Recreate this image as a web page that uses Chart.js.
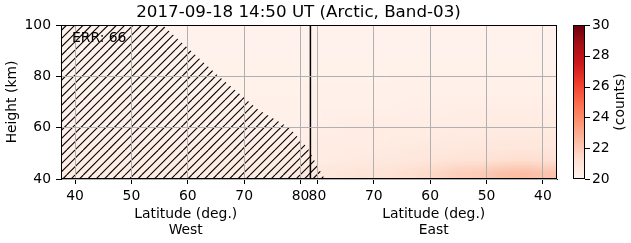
<!DOCTYPE html>
<html>
<head>
<meta charset="utf-8">
<script src="https://cdn.jsdelivr.net/npm/chart.js@4"></script>
<style>
  html, body { margin: 0; padding: 0; background: #fff; }
  canvas { display: block; }
</style>
</head>
<body>
<canvas id="chart" width="631" height="243"></canvas>
<script>
// x軸は West 緯度 → そのまま, East 緯度 → EAST_ZERO - 緯度 の連続軸
const EAST_ZERO = 163;
const westTicks = [40, 50, 60, 70, 80];
const eastTicks = [80, 70, 60, 50, 40];
const heightTicks = [40, 60, 80, 100];
const cbTicks = [20, 22, 24, 26, 28, 30];
const splitPos = 81.75;          // West/East の境界線
const errLabel = 'ERR: 66';

// 観測範囲外（ハッチ領域）の境界
const hatchPos = [37.5, 55.5, 65.5, 72.5, 78.0, 81.3, 83.0, 84.3];
const hatchHeight = [100, 100, 80, 67, 60, 52, 45, 40];

// ヒートマップのビン (x軸の値, 高度 km)
const colEdges = [37.5, 41.5, 45.5, 49.5, 53.5, 57.5, 61.5, 65.5, 69.5, 73.5, 77.5, 81.5,
                  85.5, 89.5, 93.5, 97.5, 101.5, 105.5, 109.5, 113.5, 117.5, 121.5, 125.5];
const rowEdges = [40, 45, 50, 55, 60, 65, 70, 75, 80, 85, 90, 95, 100];

// counts: 下の行 (40-45 km) から上へ, 左 (West 37.5) から右 (East 37.5) へ
const counts = [
  [20.5, 20.5, 20.5, 20.5, 20.5, 20.5, 20.5, 20.6, 20.6, 20.6, 20.7, 20.8, 20.9, 21.0, 21.1, 21.3, 21.5, 21.8, 21.9, 22.3, 22.4, 22.2],
  [20.4, 20.4, 20.4, 20.4, 20.4, 20.4, 20.4, 20.5, 20.5, 20.5, 20.5, 20.55, 20.6, 20.65, 20.7, 20.8, 20.9, 21.0, 21.05, 21.2, 21.3, 21.2],
  [20.4, 20.4, 20.4, 20.4, 20.4, 20.4, 20.4, 20.4, 20.4, 20.4, 20.4, 20.5, 20.5, 20.55, 20.6, 20.65, 20.7, 20.7, 20.75, 20.8, 20.85, 20.85],
  [20.3, 20.3, 20.3, 20.3, 20.3, 20.3, 20.3, 20.3, 20.3, 20.3, 20.3, 20.4, 20.4, 20.45, 20.5, 20.5, 20.55, 20.6, 20.6, 20.65, 20.65, 20.65],
  [20.3, 20.3, 20.3, 20.3, 20.3, 20.3, 20.3, 20.3, 20.3, 20.3, 20.3, 20.3, 20.4, 20.4, 20.4, 20.4, 20.4, 20.45, 20.45, 20.5, 20.5, 20.5],
  [20.25, 20.25, 20.25, 20.25, 20.25, 20.25, 20.25, 20.25, 20.25, 20.25, 20.25, 20.3, 20.3, 20.3, 20.3, 20.35, 20.35, 20.4, 20.4, 20.4, 20.4, 20.4],
  [20.2, 20.2, 20.2, 20.2, 20.2, 20.2, 20.2, 20.2, 20.2, 20.2, 20.2, 20.25, 20.25, 20.25, 20.25, 20.3, 20.3, 20.3, 20.3, 20.3, 20.3, 20.3],
  [20.2, 20.2, 20.2, 20.2, 20.2, 20.2, 20.2, 20.2, 20.2, 20.2, 20.2, 20.2, 20.2, 20.2, 20.2, 20.25, 20.25, 20.25, 20.25, 20.25, 20.25, 20.25],
  [20.2, 20.2, 20.2, 20.2, 20.2, 20.2, 20.2, 20.2, 20.2, 20.2, 20.2, 20.2, 20.2, 20.2, 20.2, 20.2, 20.2, 20.2, 20.2, 20.2, 20.2, 20.2],
  [20.15, 20.15, 20.15, 20.15, 20.15, 20.15, 20.15, 20.15, 20.15, 20.15, 20.15, 20.15, 20.15, 20.15, 20.15, 20.15, 20.15, 20.15, 20.15, 20.15, 20.15, 20.15],
  [20.15, 20.15, 20.15, 20.15, 20.15, 20.15, 20.15, 20.15, 20.15, 20.15, 20.15, 20.15, 20.15, 20.15, 20.15, 20.15, 20.15, 20.15, 20.15, 20.15, 20.15, 20.15],
  [20.15, 20.15, 20.15, 20.15, 20.15, 20.15, 20.15, 20.15, 20.15, 20.15, 20.15, 20.15, 20.15, 20.15, 20.15, 20.15, 20.15, 20.15, 20.15, 20.15, 20.15, 20.15]
];

const CB_MIN = 20, CB_MAX = 30;
const FONT = "'DejaVu Sans', sans-serif";
const REDS = ['#fff5f0', '#fee0d2', '#fcbba1', '#fc9272', '#fb6a4a', '#ef3b2c', '#cb181d', '#a50f15', '#67000d'];

function hexRgb(h) {
    return [parseInt(h.slice(1, 3), 16), parseInt(h.slice(3, 5), 16), parseInt(h.slice(5, 7), 16)];
}
const REDS_RGB = REDS.map(hexRgb);

function redsColor(v) {
    let t = (v - CB_MIN) / (CB_MAX - CB_MIN);
    t = Math.max(0, Math.min(1, t)) * (REDS_RGB.length - 1);
    const i = Math.min(Math.floor(t), REDS_RGB.length - 2);
    const f = t - i;
    return REDS_RGB[i].map((c, k) => Math.round(c + (REDS_RGB[i + 1][k] - c) * f));
}

// ハッチ模様 (//)
function makeHatch() {
    const c = document.createElement('canvas');
    c.width = 25; c.height = 25;
    const g = c.getContext('2d');
    g.strokeStyle = '#000';
    g.lineWidth = 1.1;
    for (let k = 0; k <= 6; k++) {
        const cc = k * 25 / 3;
        g.beginPath();
        g.moveTo(cc, 0);
        g.lineTo(cc - 25, 25);
        g.stroke();
    }
    return g.createPattern(c, 'repeat');
}

const xTickValues = westTicks.concat(eastTicks.map(l => EAST_ZERO - l));
const xTickLabels = westTicks.concat(eastTicks).map(String);

const extras = {
    id: 'extras',
    beforeDatasetsDraw(chart) {
        // ヒートマップ
        const { ctx, chartArea: a, scales: { x, y } } = chart;
        const nr = counts.length, nc = counts[0].length;
        const off = document.createElement('canvas');
        off.width = nc; off.height = nr;
        const og = off.getContext('2d');
        const img = og.createImageData(nc, nr);
        for (let r = 0; r < nr; r++) {
            for (let c = 0; c < nc; c++) {
                const rgb = redsColor(counts[r][c]);
                const p = ((nr - 1 - r) * nc + c) * 4;
                img.data[p] = rgb[0]; img.data[p + 1] = rgb[1]; img.data[p + 2] = rgb[2]; img.data[p + 3] = 255;
            }
        }
        og.putImageData(img, 0, 0);
        const x0 = x.getPixelForValue(colEdges[0]);
        const x1 = x.getPixelForValue(colEdges[colEdges.length - 1]);
        const y0 = y.getPixelForValue(rowEdges[rowEdges.length - 1]);
        const y1 = y.getPixelForValue(rowEdges[0]);
        ctx.save();
        ctx.beginPath();
        ctx.rect(a.left, a.top, a.right - a.left, a.bottom - a.top);
        ctx.clip();
        ctx.imageSmoothingEnabled = true;
        ctx.drawImage(off, x0, y0, x1 - x0, y1 - y0);
        ctx.restore();
    },
    afterDraw(chart) {
        const { ctx, chartArea: a, scales: { x } } = chart;
        ctx.save();
        // ERR ラベル
        ctx.fillStyle = '#000';
        ctx.font = '13.9px ' + FONT;
        ctx.textAlign = 'left';
        ctx.textBaseline = 'middle';
        ctx.fillText(errLabel, a.left + 11, a.top + 13);

        // 枠
        ctx.strokeStyle = '#000';
        ctx.lineWidth = 1;
        ctx.strokeRect(Math.round(a.left) + 0.5, Math.round(a.top) + 0.5,
                       Math.round(a.right - a.left) - 1, Math.round(a.bottom - a.top) - 1);

        // タイトル
        ctx.font = '16.7px ' + FONT;
        ctx.textAlign = 'center';
        ctx.fillText('2017-09-18 14:50 UT (Arctic, Band-03)', 298.5, 12.5);

        // x軸タイトル
        ctx.font = '13.9px ' + FONT;
        const sp = x.getPixelForValue(splitPos);
        const wc = (a.left + sp) / 2, ec = (sp + a.right) / 2;
        ctx.fillText('Latitude (deg.)', wc, 214);
        ctx.fillText('West', wc, 230);
        ctx.fillText('Latitude (deg.)', ec, 214);
        ctx.fillText('East', ec, 230);

        // カラーバー
        const cbL = 573, cbR = 585, cbT = a.top, cbB = a.bottom;
        const grad = ctx.createLinearGradient(0, cbB, 0, cbT);
        REDS.forEach((c, i) => grad.addColorStop(i / (REDS.length - 1), c));
        ctx.fillStyle = grad;
        ctx.fillRect(cbL, cbT, cbR - cbL, cbB - cbT);
        ctx.strokeStyle = '#000';
        ctx.strokeRect(cbL + 0.5, Math.round(cbT) + 0.5, cbR - cbL - 1, Math.round(cbB - cbT) - 1);
        ctx.fillStyle = '#000';
        ctx.textAlign = 'left';
        cbTicks.forEach(v => {
            const py = cbB - (v - CB_MIN) / (CB_MAX - CB_MIN) * (cbB - cbT);
            const yy = Math.round(py) + 0.5;
            ctx.beginPath();
            ctx.moveTo(cbR, yy);
            ctx.lineTo(cbR + 5, yy);
            ctx.stroke();
            ctx.fillText(String(v), cbR + 7, py);
        });
        ctx.translate(620, (cbT + cbB) / 2);
        ctx.rotate(-Math.PI / 2);
        ctx.textAlign = 'center';
        ctx.fillText('(counts)', 0, 0);
        ctx.restore();
    }
};

const tickFont = { family: FONT, size: 13.9 };

new Chart(document.getElementById('chart'), {
    type: 'line',
    data: {
        datasets: [
            {
                label: 'no data',
                data: hatchPos.map((p, i) => ({ x: p, y: hatchHeight[i] })),
                fill: 'start',
                backgroundColor: makeHatch(),
                borderWidth: 0,
                pointRadius: 0
            },
            {
                label: 'split',
                data: [{ x: splitPos, y: heightTicks[0] }, { x: splitPos, y: heightTicks[heightTicks.length - 1] }],
                borderColor: '#000',
                borderWidth: 1.5,
                fill: false,
                pointRadius: 0
            }
        ]
    },
    options: {
        responsive: false,
        devicePixelRatio: 1,
        animation: false,
        events: [],
        layout: { padding: { top: 25, right: 74, left: 0, bottom: 0 } },
        plugins: {
            legend: { display: false },
            title: { display: false },
            tooltip: { enabled: false }
        },
        scales: {
            x: {
                type: 'linear',
                min: colEdges[0],
                max: colEdges[colEdges.length - 1],
                afterBuildTicks: s => { s.ticks = xTickValues.map(v => ({ value: v })); },
                afterFit: s => { s.height = 64; },
                ticks: {
                    autoSkip: false,
                    maxRotation: 0,
                    padding: 4,
                    color: '#000',
                    font: tickFont,
                    callback: (v, i) => xTickLabels[i]
                },
                grid: { z: 1, color: '#b0b0b0', lineWidth: 1, tickColor: '#000', tickLength: 5 },
                border: { z: 1, color: '#000', width: 1 }
            },
            y: {
                type: 'linear',
                min: heightTicks[0],
                max: heightTicks[heightTicks.length - 1],
                afterBuildTicks: s => { s.ticks = heightTicks.map(v => ({ value: v })); },
                afterFit: s => { s.width = 61; },
                ticks: { padding: 5, color: '#000', font: tickFont },
                grid: { z: 1, color: '#b0b0b0', lineWidth: 1, tickColor: '#000', tickLength: 5 },
                border: { z: 1, color: '#000', width: 1 },
                title: { display: true, text: 'Height (km)', color: '#000', font: tickFont, padding: { top: 4, bottom: 4 } }
            }
        }
    },
    plugins: [extras]
});
</script>
</body>
</html>
